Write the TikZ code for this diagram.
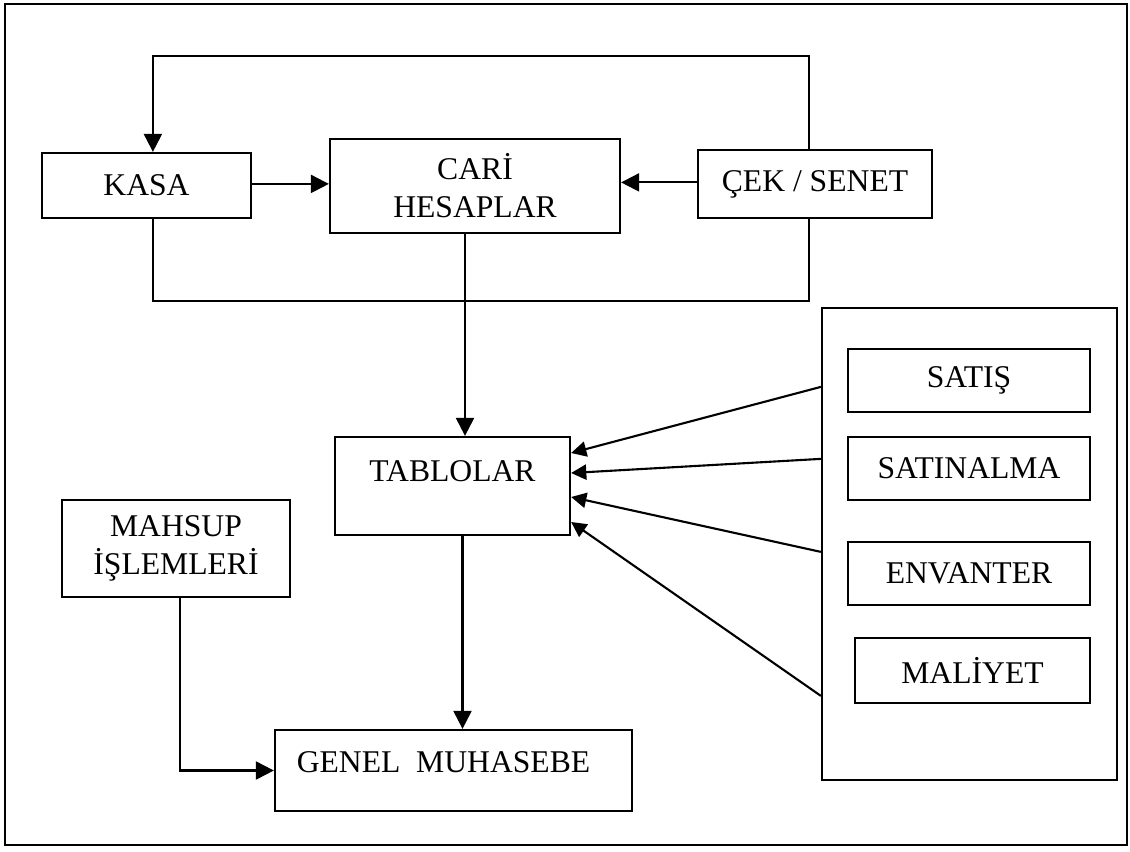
\documentclass[tikz,border=0pt]{standalone}
\usepackage{fontspec}
\setmainfont{Liberation Serif}
\usetikzlibrary{arrows.meta}
\tikzset{
	kutu/.style = {draw, line width=1.6pt, align=center, inner sep=2pt},
	hat/.style = {line width=1.5pt},
	ok/.style = {hat, -{Triangle[length=4.5mm, width=4.5mm]}},
	kucukok/.style = {hat, -{Triangle[length=3.8mm, width=3.8mm]}},
}
\begin{document}
\begin{tikzpicture}[x = 0.25mm, y = -0.25mm, font = \fontsize{22.5}{27}\selectfont]
		\useasboundingbox (0,0) rectangle (1130,851);
		\draw [line width = 1.2pt] (5,4) rectangle (1127,845);
		\node [kutu, minimum width = 52.25mm, minimum height = 16.25mm] (kasa) at (146.5,185.5) {KASA};
		\node [kutu, minimum width = 72.5mm, minimum height = 23.5mm] (cari) at (475,186) {CARİ\\HESAPLAR};
		\node [kutu, minimum width = 58.5mm, minimum height = 17mm] (cek) at (815,184) {ÇEK / SENET};
		\node [kutu, minimum width = 58.75mm, minimum height = 24.5mm, text height = 5mm, text depth = 7.25mm] (tab) at (452.5,486) {TABLOLAR};
		\node [kutu, minimum width = 57mm, minimum height = 24.25mm] (mahsup) at (176,548.5) {MAHSUP\\İŞLEMLERİ};
		\node [kutu, minimum width = 89.25mm, minimum height = 20.25mm, text height = 5mm, text depth = 4mm] (genel) at (453.5,770.5) {GENEL~~MUHASEBE\hspace{5mm}};
		\node [kutu, minimum width = 73.75mm, minimum height = 118mm] (grup) at (969.5,544) {};
		\node [kutu, minimum width = 60.5mm, minimum height = 15.75mm] (satis) at (969,380.5) {SATIŞ};
		\node [kutu, minimum width = 60.5mm, minimum height = 15.75mm] (satinalma) at (969,468.5) {SATINALMA};
		\node [kutu, minimum width = 60.5mm, minimum height = 15.75mm] (envanter) at (969,573.5) {ENVANTER};
		\node [kutu, minimum width = 58.75mm, minimum height = 16.25mm] (maliyet) at (972.5,670.5) {MALİYET};
		\draw [ok] ([xshift = -1.5mm]cek.north) -- ++(0,-93) -| ([xshift = 1.6mm]kasa.north);
		\draw [hat] ([xshift = 1.6mm]kasa.south) -- ++(0,82) -| ([xshift = -1.5mm]cek.south);
		\draw [ok] ([yshift = 0.4mm]kasa.east) -- ([yshift = 0.4mm]kasa.east -| cari.west);
		\draw [ok] ([yshift = 0.4mm]cek.west) -- ([yshift = 0.4mm]cek.west -| cari.east);
		\draw [ok] ([xshift = -2.5mm]cari.south) -- ([xshift = -2.5mm]cari.south |- tab.north);
		\draw [ok] ([xshift = 2.5mm]tab.south) -- ([xshift = 2.5mm]tab.south |- genel.north);
		\draw [ok] ([xshift = 1mm]mahsup.south) |- (genel.west);
		\foreach \a/\b in {-20/8.25, -38/3.25, -61.25/-2.75, -97.25/-9}
			\draw [kucukok] ([yshift = \a mm]grup.north west) -- ([yshift = \b mm]tab.east);
	\end{tikzpicture}
\end{document}
